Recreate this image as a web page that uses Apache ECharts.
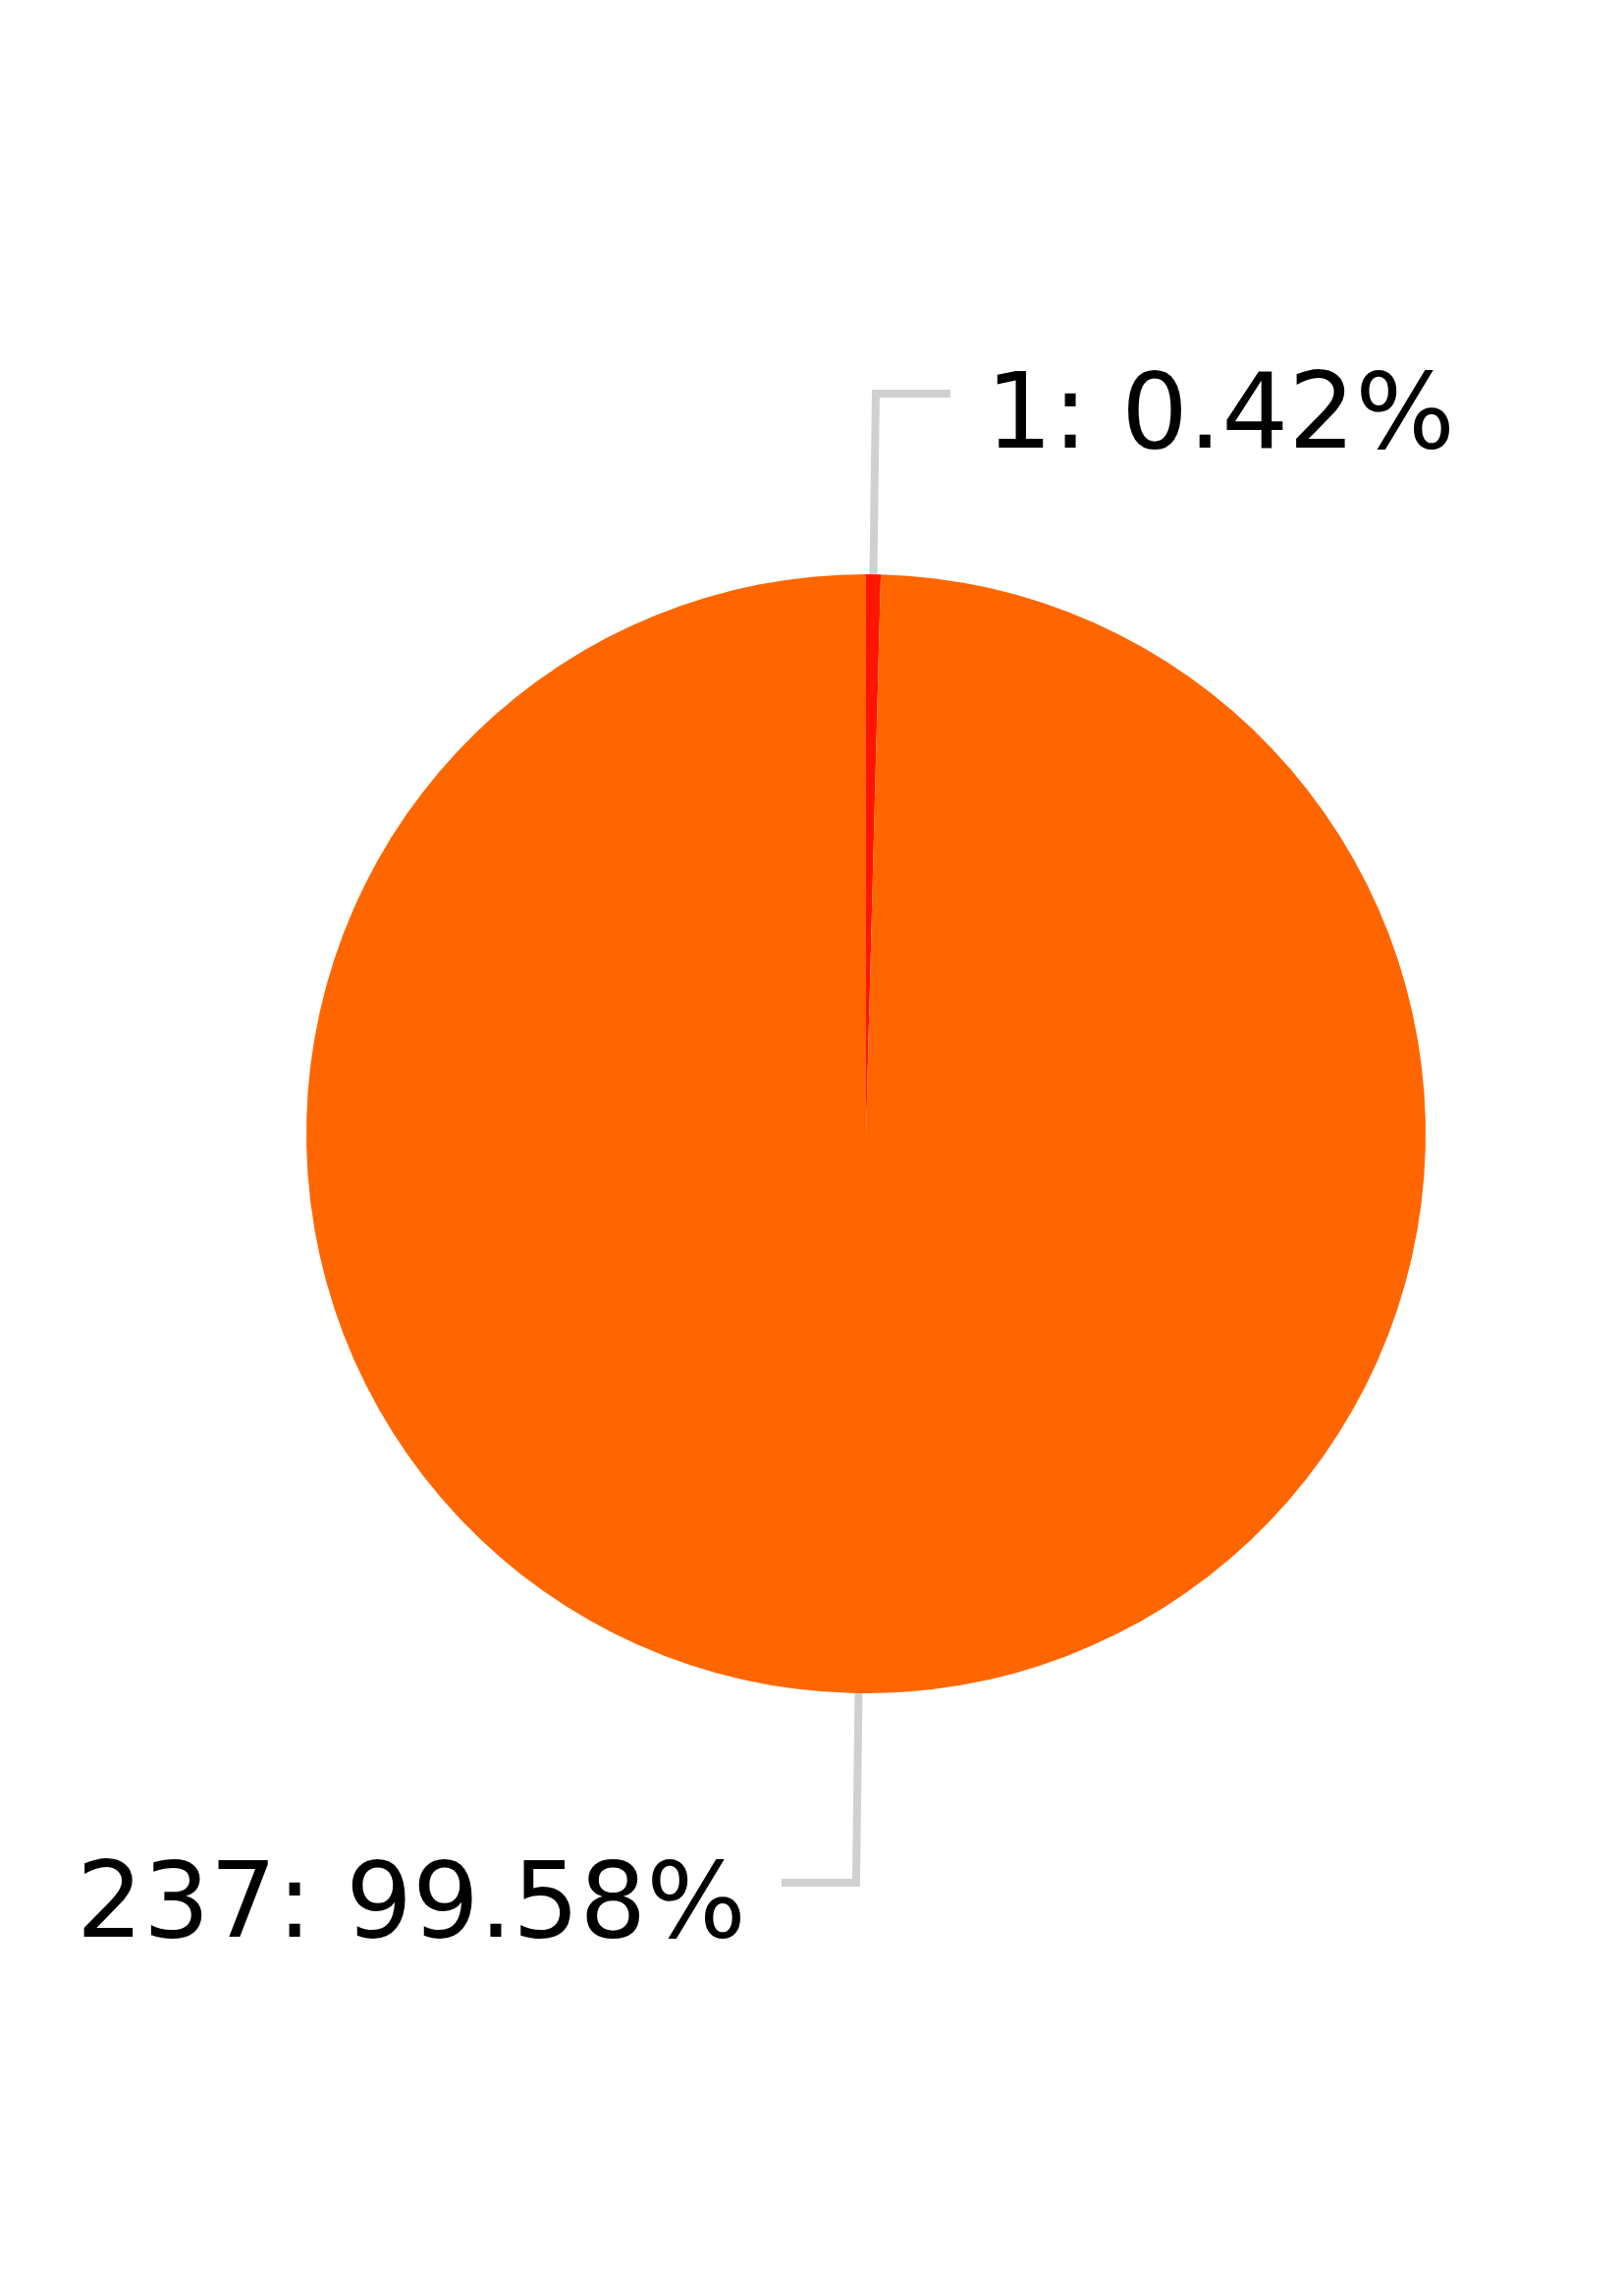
<!DOCTYPE html>
<html>
<head>
<meta charset="utf-8">
<script src="https://cdn.jsdelivr.net/npm/echarts@6/dist/echarts.min.js"></script>
<style>
html,body{margin:0;padding:0;background:#fff;}
#chart{width:1654px;height:2339px;}
</style>
</head>
<body>
<div id="chart"></div>
<script>
const categories = ['A', 'B'];
const values = [1, 237];
const colors = ['#FF1500', '#FF6600'];
const lineLengths = [184, 193];

const chart = echarts.init(document.getElementById('chart'), null, {renderer: 'canvas'});
chart.setOption({
  animation: false,
  backgroundColor: '#ffffff',
  series: [{
    type: 'pie',
    center: [882, 1155],
    radius: [0, 570],
    startAngle: 90,
    clockwise: true,
    avoidLabelOverlap: false,
    data: categories.map((c, i) => ({
      name: c,
      value: values[i],
      itemStyle: {color: colors[i]},
      labelLine: {length: lineLengths[i]}
    })),
    itemStyle: {borderWidth: 0},
    label: {
      show: true,
      formatter: '{t|{c}: {d}%}',
      distanceToLabelLine: 36,
      rich: {
        t: {
          fontFamily: 'DejaVu Sans',
          fontSize: 107,
          color: '#000',
          padding: [54, 0, 0, 0]
        }
      }
    },
    labelLine: {
      show: true,
      length2: 76,
      smooth: false,
      lineStyle: {color: '#d0d0d0', width: 8}
    },
    emphasis: {disabled: true}
  }]
});
</script>
</body>
</html>
